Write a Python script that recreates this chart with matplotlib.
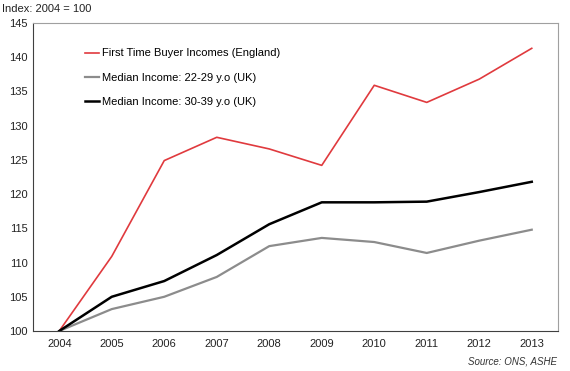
import matplotlib
matplotlib.use("Agg")
import matplotlib.pyplot as plt

years = ["2004", "2005", "2006", "2007", "2008", "2009", "2010", "2011", "2012", "2013"]
ftb = [100, 110.9, 124.9, 128.3, 126.6, 124.2, 135.9, 133.4, 136.8, 141.3]
med_22_29 = [100, 103.2, 105.0, 107.9, 112.4, 113.6, 113.0, 111.4, 113.2, 114.8]
med_30_39 = [100, 105.0, 107.3, 111.1, 115.6, 118.8, 118.8, 118.9, 120.3, 121.8]
labels = ["First Time Buyer Incomes (England)", "Median Income: 22-29 y.o (UK)", "Median Income: 30-39 y.o (UK)"]
yticks = [100, 105, 110, 115, 120, 125, 130, 135, 140, 145]

plt.rcParams['font.family'] = ['Liberation Sans', 'DejaVu Sans']
fig = plt.figure(figsize=(5.7, 3.71), dpi=100)
ax = fig.add_axes([33/570, 1 - 331/371, (558-33)/570, (331-23)/371])
x = list(range(len(years)))
ax.plot(x, ftb, color="#e03a3e", lw=1.2, label=labels[0])
ax.plot(x, med_22_29, color="#8c8c8c", lw=1.6, label=labels[1])
ax.plot(x, med_30_39, color="#000000", lw=1.8, label=labels[2])
ax.set_xlim(-0.5, len(years) - 0.5)
ax.set_ylim(100, 145)
ax.set_xticks(x)
ax.set_xticklabels(years)
ax.set_yticks(yticks)
ax.tick_params(length=0, labelsize=8, colors="#222222", pad=6)
ax.tick_params(axis='y', pad=4)
for s in ["top", "right"]:
    ax.spines[s].set_color("#a0a0a0")
for s in ["left", "bottom"]:
    ax.spines[s].set_color("#404040")
leg = ax.legend(loc="upper left", bbox_to_anchor=(0.08, 0.95), frameon=False, fontsize=8,
                handlelength=1.3, handletextpad=0.2, labelspacing=1.3)
fig.text(2/570, 1 - 9/371, "Index: 2004 = 100", fontsize=8, va="center", ha="left", color="#222222")
fig.text(557/570, 1 - 361/371, "Source: ONS, ASHE", fontsize=7, style="italic", va="center", ha="right", color="#333333")
fig.savefig("out.png", dpi=100)
